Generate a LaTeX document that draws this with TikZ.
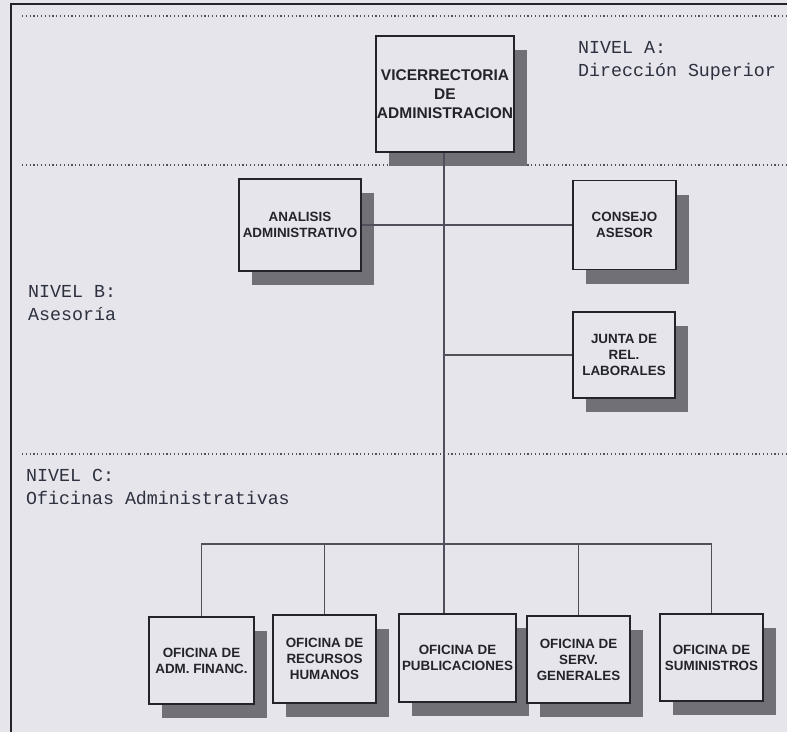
\documentclass[tikz,border=0pt]{standalone}
\usepackage{fontspec}
\setmainfont{Liberation Sans}
\newfontfamily\monof{Liberation Mono}
\usetikzlibrary{shadows}
\definecolor{paper}{RGB}{229,229,235}
\definecolor{shadowgray}{RGB}{112,112,118}
\definecolor{ink}{RGB}{35,35,42}
\definecolor{linegray}{RGB}{80,80,92}
\definecolor{textmono}{RGB}{45,48,62}
\tikzset{
  orgbox/.style={draw=ink, line width=1.8pt, fill=paper, inner sep=0pt, align=center,
    font=\bfseries\fontsize{13.4}{16}\selectfont, text=ink,
    drop shadow={shadow xshift=13pt, shadow yshift=-14pt, fill=shadowgray, opacity=1}},
  topbox/.style={orgbox, font=\bfseries\fontsize{15.5}{19}\selectfont},
  conn/.style={draw=linegray, line width=1.2pt},
  levelline/.style={draw=linegray, line width=1.3pt, dash pattern=on 1.2pt off 2.6pt},
  leveltext/.style={anchor=west, align=left, inner sep=0pt, text=textmono,
    font=\monof\fontsize{18.3}{23}\selectfont},
  frameline/.style={draw=ink, line width=1.6pt}
}
\begin{document}
\begin{tikzpicture}[x=1pt, y=-1pt]
\fill[paper] (0,0) rectangle (787,732);
\useasboundingbox (0,0) rectangle (787,732);
% frame
\draw[frameline] (11,732) -- (11,4) -- (787,4);
% level separators
\draw[levelline] (22,16) -- (787,16);
\draw[levelline] (22,165) -- (787,165);
\draw[levelline] (22,454) -- (787,454);
% level texts
\node[leveltext] (nA) at (578,61) {NIVEL A:\\Dirección Superior};
\node[leveltext] (nB) at (28,303) {NIVEL B:\\Asesoría};
\node[leveltext] (nC) at (26,487) {NIVEL C:\\Oficinas Administrativas};
% boxes
\node[topbox, minimum width=138pt, minimum height=116pt] (vice) at (445,94) {VICERRECTORIA\\DE\\ADMINISTRACION};
\node[orgbox, minimum width=122pt, minimum height=92pt] (ana) at (300,225) {ANALISIS\\ADMINISTRATIVO};
\node[orgbox, minimum width=103pt, minimum height=89pt] (con) at (624.5,225) {CONSEJO\\ASESOR};
\node[orgbox, minimum width=102pt, minimum height=86pt] (jun) at (624,355) {JUNTA DE\\REL.\\LABORALES};
\node[orgbox, minimum width=105pt, minimum height=87pt] (fin) at (201.5,660.5) {OFICINA DE\\ADM. FINANC.};
\node[orgbox, minimum width=103pt, minimum height=88pt] (rh) at (324.5,659) {OFICINA DE\\RECURSOS\\HUMANOS};
\node[orgbox, minimum width=117pt, minimum height=88pt] (pub) at (457.5,658) {OFICINA DE\\PUBLICACIONES};
\node[orgbox, minimum width=103pt, minimum height=87pt] (serv) at (578.5,659.5) {OFICINA DE\\SERV.\\GENERALES};
\node[orgbox, minimum width=103pt, minimum height=87pt] (sum) at (711.5,657.5) {OFICINA DE\\SUMINISTROS};
% connectors
\coordinate (bus) at (0,544);
\coordinate (trunk) at (444,0);
\draw[conn] (trunk |- vice.south) -- (trunk |- pub.north);
\draw[conn] (ana.east) -- (con.west);
\draw[conn] (jun.west) -- (trunk |- jun.west);
\draw[conn] (fin.north) -- (fin.north |- bus) -- (sum.north |- bus) -- (sum.north);
\draw[conn] (rh.north) -- (rh.north |- bus);
\draw[conn] (serv.north) -- (serv.north |- bus);
\end{tikzpicture}
\end{document}
